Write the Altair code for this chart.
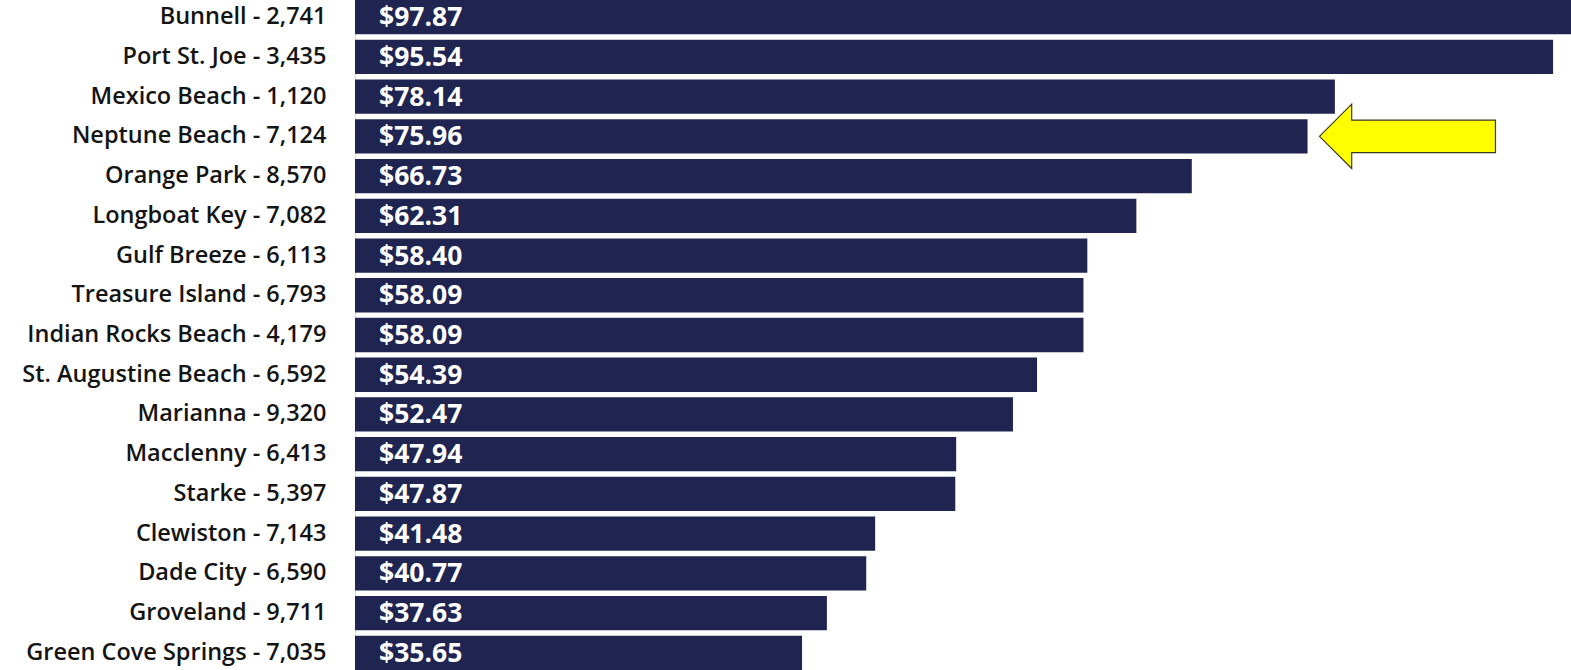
import altair as alt
import pandas as pd

cities = ["Bunnell", "Port St. Joe", "Mexico Beach", "Neptune Beach", "Orange Park",
          "Longboat Key", "Gulf Breeze", "Treasure Island", "Indian Rocks Beach",
          "St. Augustine Beach", "Marianna", "Macclenny", "Starke", "Clewiston",
          "Dade City", "Groveland", "Green Cove Springs"]
populations = ["2,741", "3,435", "1,120", "7,124", "8,570", "7,082", "6,113", "6,793",
               "4,179", "6,592", "9,320", "6,413", "5,397", "7,143", "6,590", "9,711", "7,035"]
values = [97.87, 95.54, 78.14, 75.96, 66.73, 62.31, 58.40, 58.09, 58.09, 54.39,
          52.47, 47.94, 47.87, 41.48, 40.77, 37.63, 35.65]

labels = [f"{c} - {p}" for c, p in zip(cities, populations)]
df = pd.DataFrame({"label": labels, "value": values,
                   "text": [f"${v:.2f}" for v in values]})

X_MAX = 96.97
FONT = "Open Sans"

y_enc = alt.Y("label:N", sort=labels,
              scale=alt.Scale(paddingInner=0.137, paddingOuter=0),
              axis=alt.Axis(title=None, ticks=False, domain=False, labelPadding=29,
                            labelFontSize=23.5, labelFont=FONT, labelFontWeight=600,
                            labelColor="#141414", labelLimit=400))
x_scale = alt.Scale(domain=[0, X_MAX], nice=False, zero=True)

bars = alt.Chart(df).mark_bar(color="#1f2450", clip=True).encode(
    x=alt.X("value:Q", scale=x_scale, axis=None),
    y=y_enc,
)

text = alt.Chart(df).mark_text(align="left", baseline="middle", dx=24, dy=1, color="white",
                               font=FONT, fontSize=26.5, fontWeight="bold").encode(
    x=alt.datum(0, scale=x_scale),
    y=alt.Y("label:N", sort=labels),
    text="text:N",
)

arrow_df = pd.DataFrame({"label": ["Neptune Beach - 7,124"], "x": [83.93]})
arrow_path = ("M -1 0 L -0.634 -0.366 L -0.634 -0.184 L 1 -0.184 L 1 0.184 "
              "L -0.634 0.184 L -0.634 0.366 Z")
arrow = alt.Chart(arrow_df).mark_point(shape=arrow_path, filled=True, fill="#ffff00",
                                       stroke="#3a3a1a", strokeWidth=1.2, size=30976,
                                       opacity=1).encode(
    x=alt.X("x:Q", scale=x_scale),
    y=alt.Y("label:N", sort=labels),
)

chart = alt.layer(bars, text, arrow).properties(
    width=1216, height=670, autosize="none",
    padding={"left": 355, "top": 0, "right": 0, "bottom": 0},
).configure_view(stroke=None).configure(background="white")

chart.save("out.html", embed_options={"renderer": "svg", "actions": False})
